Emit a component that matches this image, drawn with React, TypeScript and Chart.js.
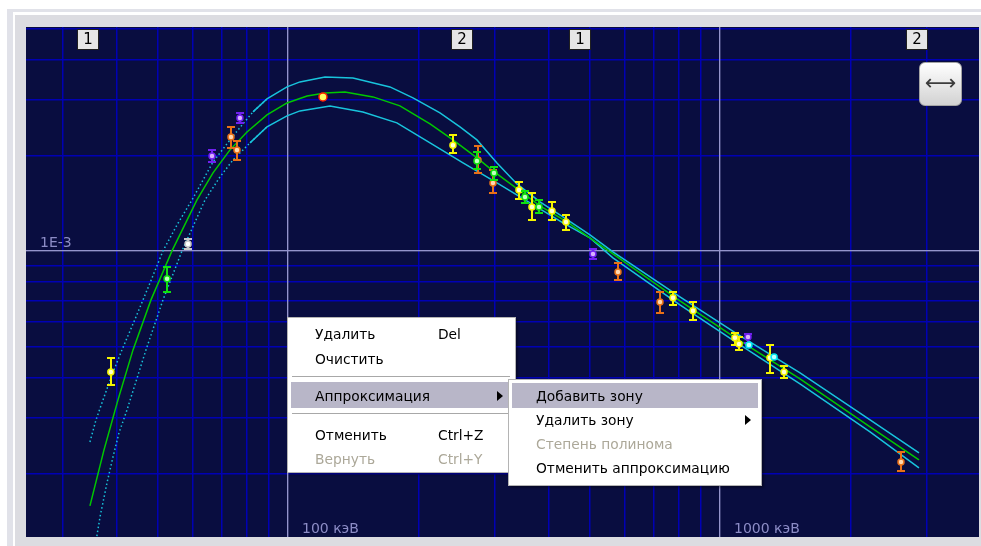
import React, { useEffect, useRef } from 'react';
import { Chart, registerables } from 'chart.js';

Chart.register(...registerables);

// ---------- axes (energy in keV, flux) ----------
const xRange = [24.75, 3977];
const yRange = [1.26e-4, 5.06e-3];
const xGridValues = [30, 40, 50, 60, 70, 80, 90, 100, 200, 300, 400, 500, 600, 700, 800, 900, 1000, 2000, 3000];
const yGridValues = [2e-4, 3e-4, 4e-4, 5e-4, 6e-4, 7e-4, 8e-4, 9e-4, 1e-3, 2e-3, 3e-3, 4e-3, 5e-3];
const xMajorValues = [100, 1000];
const yMajorValues = [1e-3];
const xLabelValues = [100, 1000];
const xLabelTexts = ['100 кэВ', '1000 кэВ'];
const yLabelValues = [1e-3];
const yLabelTexts = ['1E-3'];
const zoneEnergies = [34.4, 253, 473, 2858];
const zoneLabels = ['1', '2', '1', '2'];
const dottedBelowEnergy = 83;

// ---------- approximation curves ----------
const fitEnergy = [34.8, 37.51, 40.41, 43.78, 48.18, 53.89, 61.57, 67.06, 73.41, 80.37, 89.41, 99.47, 110.7, 121.8, 135.5, 157.3, 181.6, 213.2, 240.9, 273.8, 298.2, 344.4, 383.1, 442.5, 492.1, 565.2, 807.8, 1095, 1532, 2225, 2888];
const fitValue = [1.578e-4, 2.367e-4, 3.4e-4, 4.884e-4, 7.015e-4, 1.0e-3, 1.4465e-3, 1.759e-3, 2.078e-3, 2.367e-3, 2.677e-3, 2.92e-3, 3.072e-3, 3.14e-3, 3.162e-3, 3.05e-3, 2.858e-3, 2.509e-3, 2.234e-3, 1.961e-3, 1.785e-3, 1.544e-3, 1.385e-3, 1.234e-3, 1.115e-3, 9.785e-4, 6.964e-4, 5.287e-4, 3.958e-4, 2.797e-4, 2.202e-4];

const upperEnergy = [34.8, 35.94, 37.31, 39.14, 41.28, 44.48, 47.93, 51.37, 55.35, 59.95, 67.06, 73.41, 78.67, 82.98, 89.41, 99.47, 106.6, 121.8, 141.4, 172.2, 194.7, 224.8, 250.1, 273.8, 304.6, 338.9, 383.1, 433.1, 500.1, 565.2, 807.8, 1095, 1532, 2225, 2888];
const upperValue = [2.508e-4, 2.941e-4, 3.4e-4, 4.074e-4, 4.884e-4, 6.201e-4, 7.93e-4, 1.0e-3, 1.207e-3, 1.4465e-3, 1.905e-3, 2.234e-3, 2.509e-3, 2.736e-3, 3.006e-3, 3.279e-3, 3.4e-3, 3.525e-3, 3.5e-3, 3.279e-3, 3.028e-3, 2.716e-3, 2.455e-3, 2.234e-3, 1.891e-3, 1.6245e-3, 1.426e-3, 1.279e-3, 1.123e-3, 9.928e-4, 7.169e-4, 5.482e-4, 4.134e-4, 2.941e-4, 2.316e-4];

const lowerEnergy = [35.74, 36.72, 38.11, 39.35, 40.63, 42.4, 46.91, 51.37, 56.84, 64.26, 69.6, 74.6, 81.67, 89.41, 99.47, 106.6, 125.1, 149.1, 178.7, 213.2, 254.2, 304.6, 363.3, 433.1, 500.1, 565.2, 807.8, 1095, 1532, 2225, 2888];
const lowerValue = [1.164e-4, 1.457e-4, 1.864e-4, 2.25e-4, 2.678e-4, 3.162e-4, 4.884e-4, 7.015e-4, 1.0e-3, 1.4465e-3, 1.709e-3, 1.9325e-3, 2.186e-3, 2.455e-3, 2.658e-3, 2.756e-3, 2.858e-3, 2.736e-3, 2.527e-3, 2.186e-3, 1.891e-3, 1.636e-3, 1.416e-3, 1.225e-3, 1.099e-3, 9.506e-4, 6.765e-4, 5.136e-4, 3.818e-4, 2.697e-4, 2.078e-4];

// ---------- measurements with error bars ----------
const yellowEnergy = [38.9, 240.9, 342.5, 367, 408.4, 440.1, 778.5, 866, 1083, 1107, 1305, 1407];
const yellowValue = [4.16e-4, 2.15e-3, 1.555e-3, 1.375e-3, 1.336e-3, 1.234e-3, 7.12e-4, 6.48e-4, 5.33e-4, 5.1e-4, 4.61e-4, 4.16e-4];
const yellowHigh = [4.61e-4, 2.32e-3, 1.648e-3, 1.522e-3, 1.426e-3, 1.298e-3, 7.43e-4, 6.91e-4, 5.52e-4, 5.37e-4, 5.06e-4, 4.35e-4];
const yellowLow = [3.79e-4, 2.03e-3, 1.457e-3, 1.252e-3, 1.252e-3, 1.164e-3, 6.77e-4, 6.07e-4, 5.06e-4, 4.88e-4, 4.14e-4, 3.99e-4];

const greenEnergy = [52.5, 273.8, 299.8, 353.7, 381.1];
const greenValue = [8.17e-4, 1.919e-3, 1.759e-3, 1.478e-3, 1.375e-3];
const greenHigh = [8.91e-4, 2.048e-3, 1.837e-3, 1.544e-3, 1.447e-3];
const greenLow = [7.43e-4, 1.811e-3, 1.672e-3, 1.416e-3, 1.317e-3];

const orangeEnergy = [73.8, 76.2, 275.3, 298.2, 580.6, 726.3, 2624];
const orangeValue = [2.283e-3, 2.078e-3, 1.933e-3, 1.636e-3, 8.59e-4, 6.91e-4, 2.17e-4];
const orangeHigh = [2.454e-3, 2.218e-3, 2.139e-3, 1.797e-3, 9.17e-4, 7.43e-4, 2.333e-4];
const orangeLow = [2.108e-3, 1.933e-3, 1.759e-3, 1.522e-3, 8.1e-4, 6.38e-4, 2.033e-4];

const purpleEnergy = [66.7, 77.4, 508.2, 1161];
const purpleValue = [1.989e-3, 2.62e-3, 9.78e-4, 5.365e-4];
const purpleHigh = [2.078e-3, 2.716e-3, 1.015e-3, 5.48e-4];
const purpleLow = [1.905e-3, 2.527e-3, 9.44e-4, 5.135e-4];

const whiteEnergy = [58.7];
const whiteValue = [1.052e-3];
const whiteHigh = [1.091e-3];
const whiteLow = [1.015e-3];

const cyanEnergy = [1167, 1334];
const cyanValue = [5.06e-4, 4.64e-4];

const redEnergy = [120.5];
const redValue = [3.05e-3];

// ---------- styles ----------
const NAVY = '#090d40';
const GRID_MINOR = '#0000b4';
const GRID_MINOR_SOFT = 'rgba(0,0,190,0.45)';
const GRID_MAJOR = '#9494cc';
const GRID_MAJOR_SOFT = 'rgba(148,148,204,0.35)';
const LABEL_COLOR = '#8c8cc6';
const FIT_COLOR = '#00c800';
const BAND_COLOR = '#18c4dc';
const FONT = '"DejaVu Sans", Verdana, sans-serif';

const toPoints = (e: number[], v: number[]) => e.map((x, i) => ({ x, y: v[i] }));

function splitDotted(e: number[], v: number[], limit: number) {
  let last = 0;
  e.forEach((x, i) => { if (x <= limit) last = i; });
  return {
    dotted: toPoints(e.slice(0, last + 2), v.slice(0, last + 2)),
    solid: toPoints(e.slice(last), v.slice(last)),
  };
}

function pointSeries(label: string, e: number[], v: number[], hi: number[] | null, lo: number[] | null, color: string, core: string, radius = 3) {
  return {
    label,
    data: toPoints(e, v),
    errHigh: hi,
    errLow: lo,
    errColor: color,
    showLine: false,
    pointRadius: radius,
    pointBackgroundColor: core,
    pointBorderColor: color,
    pointBorderWidth: 1.5,
  } as any;
}

function lineSeries(label: string, data: any[], color: string, width: number, dash?: number[]) {
  return {
    label,
    data,
    showLine: true,
    pointRadius: 0,
    borderColor: color,
    borderWidth: width,
    borderDash: dash || [],
    tension: 0,
    fill: false,
  } as any;
}

// grid drawn through the scales (1px rule with a soft neighbour, like the scaled screenshot)
const gridPlugin = {
  id: 'crispGrid',
  beforeDatasetsDraw(chart: any) {
    const { ctx, chartArea: a, scales } = chart;
    const xs = scales.x, ys = scales.y;
    ctx.save();
    const drawPass = (major: boolean) => {
      const strong = major ? GRID_MAJOR : GRID_MINOR;
      const soft = major ? GRID_MAJOR_SOFT : GRID_MINOR_SOFT;
      xGridValues.forEach((v) => {
        if (xMajorValues.includes(v) !== major) return;
        const px = Math.floor(xs.getPixelForValue(v));
        if (px < a.left || px > a.right) return;
        ctx.fillStyle = soft;
        ctx.fillRect(px + 1, a.top, 1, a.bottom - a.top);
        ctx.fillStyle = strong;
        ctx.fillRect(px, a.top, 1, a.bottom - a.top);
      });
      yGridValues.forEach((v) => {
        if (yMajorValues.includes(v) !== major) return;
        const py = Math.floor(ys.getPixelForValue(v));
        if (py < a.top || py > a.bottom) return;
        ctx.fillStyle = soft;
        ctx.fillRect(a.left, py + 1, a.right - a.left, 1);
        ctx.fillStyle = strong;
        ctx.fillRect(a.left, py, a.right - a.left, 1);
      });
    };
    drawPass(false);
    drawPass(true);

    ctx.font = '14px ' + FONT;
    ctx.fillStyle = LABEL_COLOR;
    ctx.textBaseline = 'alphabetic';
    ctx.textAlign = 'left';
    yLabelValues.forEach((v, i) => {
      ctx.fillText(yLabelTexts[i], a.left + 14, ys.getPixelForValue(v) - 4);
    });
    xLabelValues.forEach((v, i) => {
      ctx.fillText(xLabelTexts[i], xs.getPixelForValue(v) + 14, a.bottom - 4);
    });
    ctx.restore();
  },
  afterDraw(chart: any) {
    const { ctx, chartArea, scales } = chart;
    ctx.save();
    ctx.font = '15px ' + FONT;
    ctx.textAlign = 'center';
    ctx.textBaseline = 'middle';
    zoneEnergies.forEach((e, i) => {
      const cx = Math.round(scales.x.getPixelForValue(e));
      const left = cx - 11, top = chartArea.top + 2;
      ctx.fillStyle = '#e6e6e6';
      ctx.fillRect(left, top, 22, 21);
      ctx.strokeStyle = '#202020';
      ctx.lineWidth = 1;
      ctx.strokeRect(left + 0.5, top + 0.5, 21, 20);
      ctx.fillStyle = '#000';
      ctx.fillText(zoneLabels[i], cx, top + 11);
    });
    ctx.restore();
  },
};

const errorBarPlugin = {
  id: 'errorBars',
  beforeDatasetDraw(chart: any, args: any) {
    const ds = chart.data.datasets[args.index];
    if (!ds.errHigh || !ds.errLow) return;
    const { ctx, scales } = chart;
    const xs = scales.x, ys = scales.y;
    ctx.save();
    ctx.strokeStyle = ds.errColor;
    ctx.lineWidth = 2;
    ds.data.forEach((p: any, i: number) => {
      const px = Math.round(xs.getPixelForValue(p.x));
      const yt = Math.round(ys.getPixelForValue(ds.errHigh[i]));
      const yb = Math.round(ys.getPixelForValue(ds.errLow[i]));
      ctx.beginPath();
      ctx.moveTo(px, yt);
      ctx.lineTo(px, yb);
      ctx.moveTo(px - 4, yt);
      ctx.lineTo(px + 4, yt);
      ctx.moveTo(px - 4, yb);
      ctx.lineTo(px + 4, yb);
      ctx.stroke();
    });
    ctx.restore();
  },
};

const upperParts = splitDotted(upperEnergy, upperValue, dottedBelowEnergy);
const lowerParts = splitDotted(lowerEnergy, lowerValue, dottedBelowEnergy);

function buildConfig(): any {
  const axis = (range: number[]) => ({
    type: 'logarithmic',
    min: range[0],
    max: range[1],
    ticks: { display: false },
    border: { display: false },
    grid: { display: false, drawTicks: false },
  });
  return {
    type: 'scatter',
    data: {
      datasets: [
        pointSeries('red', redEnergy, redValue, null, null, '#ff2000', '#ffff60', 4),
        pointSeries('cyan', cyanEnergy, cyanValue, null, null, '#00e8f0', '#c0ffff', 3),
        pointSeries('purple', purpleEnergy, purpleValue, purpleHigh, purpleLow, '#7020f0', '#d8b0ff'),
        pointSeries('white', whiteEnergy, whiteValue, whiteHigh, whiteLow, '#c8c8c8', '#ffffff'),
        pointSeries('green', greenEnergy, greenValue, greenHigh, greenLow, '#10e010', '#c0ffc0'),
        pointSeries('yellow', yellowEnergy, yellowValue, yellowHigh, yellowLow, '#f4f400', '#ffffd0'),
        pointSeries('orange', orangeEnergy, orangeValue, orangeHigh, orangeLow, '#e87018', '#ffd8b0'),
        lineSeries('fit', toPoints(fitEnergy, fitValue), FIT_COLOR, 1.5),
        lineSeries('upper', upperParts.solid, BAND_COLOR, 1.5),
        lineSeries('upper dotted', upperParts.dotted, BAND_COLOR, 1.5, [1.5, 2.5]),
        lineSeries('lower', lowerParts.solid, BAND_COLOR, 1.5),
        lineSeries('lower dotted', lowerParts.dotted, BAND_COLOR, 1.5, [1.5, 2.5]),
      ],
    },
    options: {
      responsive: true,
      maintainAspectRatio: false,
      animation: false,
      events: [],
      layout: { padding: 0, autoPadding: false },
      plugins: { legend: { display: false }, tooltip: { enabled: false } },
      scales: {
        x: axis(xRange),
        y: axis(yRange),
      },
    },
    plugins: [gridPlugin, errorBarPlugin],
  };
}

// ---------- context menu ----------
const mainMenuRows = [
  { text: 'Удалить', shortcut: 'Del', top: 4 },
  { text: 'Очистить', shortcut: '', top: 29 },
  { text: 'Аппроксимация', shortcut: '', top: 66, arrow: true },
  { text: 'Отменить', shortcut: 'Ctrl+Z', top: 105 },
  { text: 'Вернуть', shortcut: 'Ctrl+Y', top: 129, disabled: true },
];
const mainSeparators = [58, 95];
const subMenuRows = [
  { text: 'Добавить зону', top: 4 },
  { text: 'Удалить зону', top: 28, arrow: true },
  { text: 'Степень полинома', top: 52, disabled: true },
  { text: 'Отменить аппроксимацию', top: 76 },
];

const DISABLED = '#aca899';
const HILITE = '#b8b6c8';

const menuBox: React.CSSProperties = {
  position: 'absolute',
  background: '#ffffff',
  border: '1px solid #b4b4b4',
  boxShadow: '2px 2px 2px rgba(0,0,0,0.35)',
  boxSizing: 'border-box',
  fontFamily: FONT,
  fontSize: 13.8,
  color: '#000',
};

function Arrow({ left, top }: { left: number; top: number }) {
  return (
    <div style={{ position: 'absolute', left, top, width: 0, height: 0, borderTop: '5px solid transparent', borderBottom: '5px solid transparent', borderLeft: '6px solid #000' }} />
  );
}

export default function App() {
  const canvasRef = useRef<HTMLCanvasElement>(null);
  useEffect(() => {
    const chart = new Chart(canvasRef.current as HTMLCanvasElement, buildConfig());
    return () => chart.destroy();
  }, []);

  const rowStyle = (top: number, left: number, disabled?: boolean): React.CSSProperties => ({
    position: 'absolute', left, top, height: 24, lineHeight: '24px', whiteSpace: 'nowrap', color: disabled ? DISABLED : '#000',
  });

  return (
    <div style={{ position: 'fixed', left: 0, top: 0, width: 981, height: 546, background: '#ffffff', overflow: 'hidden' }}>
      <div style={{ position: 'absolute', left: 7, top: 9, width: 974, height: 537, background: '#e1e2e9' }} />
      <div style={{ position: 'absolute', left: 13, top: 12, width: 968, height: 534, background: '#ffffff' }} />
      <div style={{ position: 'absolute', left: 15, top: 15, width: 966, height: 531, background: '#dcdce1' }} />
      <div style={{ position: 'absolute', left: 26, top: 27, width: 953, height: 510, background: NAVY }}>
        <canvas ref={canvasRef} />
      </div>

      <div style={{ position: 'absolute', left: 919, top: 62, width: 43, height: 44, boxSizing: 'border-box', borderRadius: 6, border: '1px solid #a4a4a4', background: 'linear-gradient(#ffffff, #d2d2d2)', color: '#3c3c3c', fontFamily: FONT, fontSize: 22, lineHeight: '40px', textAlign: 'center' }}>⟷</div>

      <div style={{ ...menuBox, left: 287, top: 317, width: 229, height: 156 }}>
        <div style={{ position: 'absolute', left: 3, top: 64, width: 221, height: 26, background: HILITE }} />
        {mainSeparators.map((t) => (
          <div key={t} style={{ position: 'absolute', left: 4, top: t, width: 218, height: 1, background: '#a8a8a8', borderBottom: '1px solid #ffffff' }} />
        ))}
        {mainMenuRows.map((r) => (
          <React.Fragment key={r.text}>
            <div style={rowStyle(r.top, 27, r.disabled)}>{r.text}</div>
            {r.shortcut ? <div style={rowStyle(r.top, 150, r.disabled)}>{r.shortcut}</div> : null}
            {r.arrow ? <Arrow left={209} top={r.top + 7} /> : null}
          </React.Fragment>
        ))}
      </div>

      <div style={{ ...menuBox, left: 508, top: 379, width: 254, height: 107 }}>
        <div style={{ position: 'absolute', left: 3, top: 3, width: 246, height: 25, background: HILITE }} />
        {subMenuRows.map((r) => (
          <React.Fragment key={r.text}>
            <div style={rowStyle(r.top, 27, r.disabled)}>{r.text}</div>
            {r.arrow ? <Arrow left={236} top={r.top + 7} /> : null}
          </React.Fragment>
        ))}
      </div>
    </div>
  );
}
